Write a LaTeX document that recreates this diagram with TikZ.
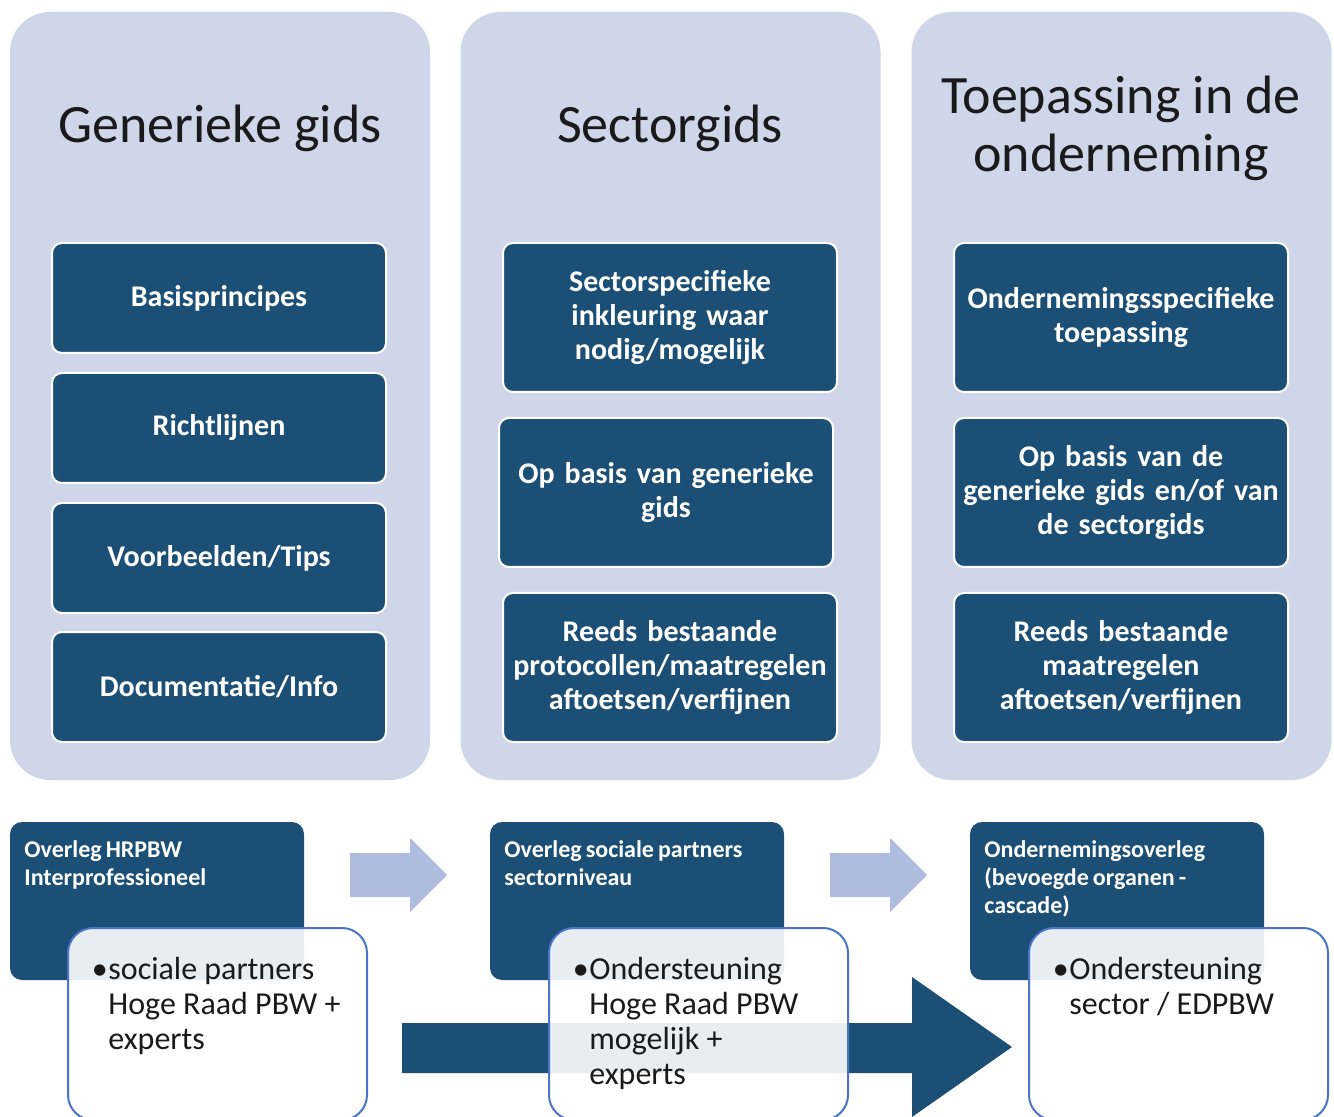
\documentclass[tikz,border=0pt]{standalone}
\usepackage{fontspec}
\setmainfont{Carlito}[BoldFeatures={WordSpace=0.75}]
\definecolor{colbg}{HTML}{D0D6EA}
\definecolor{darkblue}{HTML}{1B4F76}
\definecolor{lightarrow}{HTML}{AFBCE0}
\definecolor{wstroke}{HTML}{4A74C9}
\definecolor{titletext}{HTML}{1A1A1A}
\begin{document}
\begin{tikzpicture}[x=0.5pt,y=-0.5pt,
  column/.style={fill=colbg, rounded corners=20pt, minimum width=210pt, minimum height=384pt, inner sep=0pt},
  coltitle/.style={text=titletext, font=\fontsize{27}{29}\selectfont, align=center},
  itembox/.style={fill=darkblue, draw=white, line width=1pt, rounded corners=5pt, minimum width=167pt, text=white, font=\bfseries\fontsize{15}{17}\selectfont, align=center, text width=162pt, inner sep=0pt},
  shortbox/.style={itembox, minimum height=55pt},
  tallbox/.style={itembox, minimum height=74.5pt},
  forumbox/.style={fill=darkblue, rounded corners=6pt, minimum width=147pt, minimum height=79pt, inner sep=0pt},
  forumtext/.style={text=white, font=\bfseries\fontsize{12}{14}\selectfont, align=left, anchor=north west, inner sep=0pt},
  supportbox/.style={fill=white, fill opacity=0.9, draw=wstroke, line width=1pt, rounded corners=12.5pt, minimum width=149.5pt, minimum height=96pt, inner sep=0pt},
  supporttext/.style={text=titletext, font=\fontsize{16}{17.5}\selectfont, align=left, anchor=north west, inner sep=0pt},
  lightarrowshape/.style={fill=lightarrow, draw=none},
  bigarrowshape/.style={fill=darkblue, draw=none}
]
\useasboundingbox (0,0) rectangle (1334,1117);
\fill[white] (0,0) rectangle (1334,1117);

% columns
\node[column] (c1) at (220,396) {};
\node[column] (c2) at (670.5,396) {};
\node[column] (c3) at (1121.5,396) {};

% titles
\node[coltitle] (t1) at (220,128) {Generieke gids};
\node[coltitle] (t2) at (670,128) {Sectorgids};
\node[coltitle] (t3) at (1121,128) {Toepassing in de\\onderneming};

% column 1 items
\node[shortbox] (g1) at (219,298) {Basisprincipes};
\node[shortbox] (g2) at (219,428) {Richtlijnen};
\node[shortbox] (g3) at (219,558) {Voorbeelden/Tips};
\node[shortbox] (g4) at (219,687) {Documentatie/Info};

% column 2 items
\node[tallbox] (s1) at (670,317.5) {Sectorspecifieke\\inkleuring waar\\nodig/mogelijk};
\node[tallbox] (s2) at (666,492.5) {Op basis van generieke\\gids};
\node[tallbox] (s3) at (670,667.5) {Reeds bestaande\\protocollen/maatregelen\\aftoetsen/verfijnen};

% column 3 items
\node[tallbox] (o1) at (1121,317.5) {Ondernemingsspecifieke\\toepassing};
\node[tallbox] (o2) at (1121,492.5) {Op basis van de\\generieke gids en/of van\\de sectorgids};
\node[tallbox] (o3) at (1121,667.5) {Reeds bestaande\\maatregelen\\aftoetsen/verfijnen};

% light arrows
\fill[lightarrowshape] (350,853) -- (410,853) -- (410,838) -- (447,875) -- (410,912) -- (410,897) -- (350,897) -- cycle;
\fill[lightarrowshape] (830,853) -- (890,853) -- (890,838) -- (927,875) -- (890,912) -- (890,897) -- (830,897) -- cycle;

% forum boxes
\node[forumbox] (f1) at (157,901) {};
\node[forumbox] (f2) at (637,901) {};
\node[forumbox] (f3) at (1117,901) {};
\node[forumtext] (ft1) at (24,840) {Overleg HRPBW\\Interprofessioneel};
\node[forumtext] (ft2) at (504,840) {Overleg sociale partners\\sectorniveau};
\node[forumtext] (ft3) at (984,840) {Ondernemingsoverleg\\(bevoegde organen -\\cascade)};

% big arrow
\fill[bigarrowshape] (402,1023) -- (912,1023) -- (912,977) -- (1012,1047) -- (912,1117) -- (912,1073) -- (402,1073) -- cycle;

% support boxes
\node[supportbox] (w1) at (217.5,1024) {};
\node[supportbox] (w2) at (698.5,1024) {};
\node[supportbox] (w3) at (1178.5,1024) {};
\node[supporttext] (wt1) at (108,957) {\llap{\textbullet\hspace{0.3pt}}sociale partners\\Hoge Raad PBW +\\experts};
\node[supporttext] (wt2) at (589,957) {\llap{\textbullet\hspace{0.3pt}}Ondersteuning\\Hoge Raad PBW\\mogelijk +\\experts};
\node[supporttext] (wt3) at (1069,957) {\llap{\textbullet\hspace{0.3pt}}Ondersteuning\\sector / EDPBW};
\end{tikzpicture}
\end{document}
